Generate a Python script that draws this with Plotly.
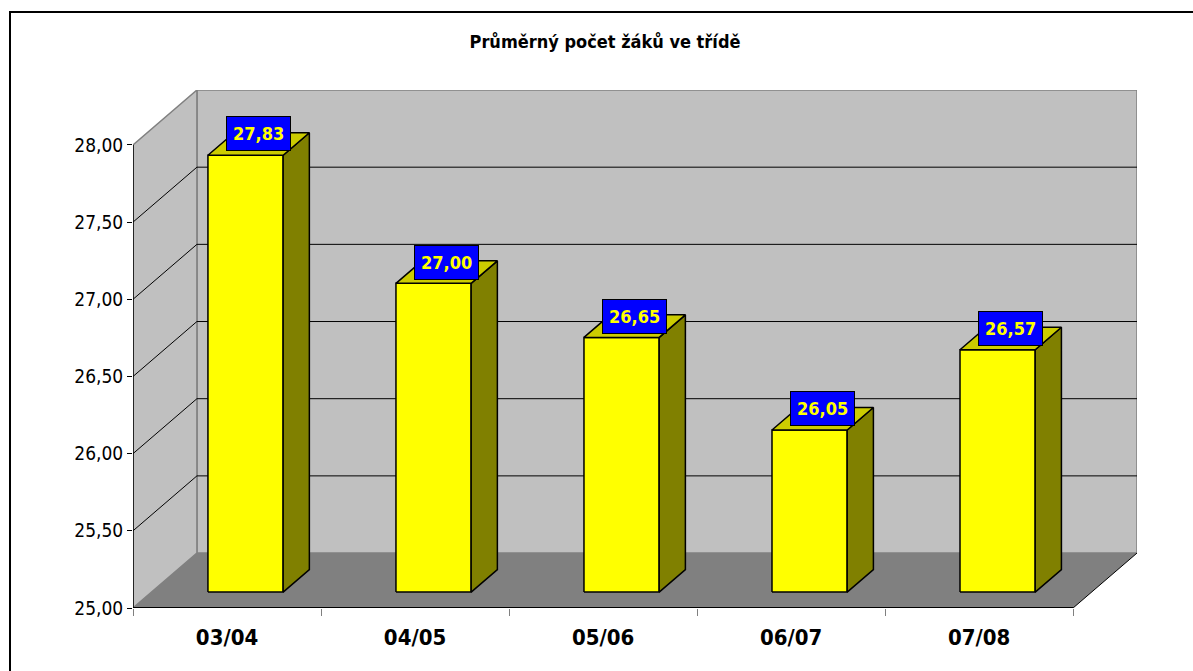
import plotly.graph_objects as go

# ---- data ----
categories = ["03/04", "04/05", "05/06", "06/07", "07/08"]
values = [27.83, 27.00, 26.65, 26.05, 26.57]
y_ticks = [25.0, 25.5, 26.0, 26.5, 27.0, 27.5, 28.0]
y_tick_labels = ["25,00", "25,50", "26,00", "26,50", "27,00", "27,50", "28,00"]
title_text = "Průměrný počet žáků ve třídě"

# ---- 3D look parameters (in data units) ----
Y0, Y1 = 25.0, 28.0
DX, DY = 0.34, 0.356          # full depth offset of the back wall
F0, F1 = 0.29, 0.70           # bar depth: front/back fraction of total depth
HW = 0.20                     # half bar width
BX, BY = F0 * DX, F0 * DY
BDX, BDY = (F1 - F0) * DX, (F1 - F0) * DY
n = len(categories)
XL, XR = -0.5, n - 0.5

FONT = "DejaVu Sans Condensed, DejaVu Sans, sans-serif"

fig = go.Figure()

shapes = []
def path(pts):
    return "M " + " L ".join(f"{x},{y}" for x, y in pts) + " Z"

# back wall
shapes.append(dict(type="path", xref="x", yref="y", layer="below",
                   path=path([(XL + DX, Y0 + DY), (XR + DX, Y0 + DY), (XR + DX, Y1 + DY), (XL + DX, Y1 + DY)]),
                   fillcolor="#C0C0C0", line=dict(color="#808080", width=1.5)))
# side wall
shapes.append(dict(type="path", xref="x", yref="y", layer="below",
                   path=path([(XL, Y0), (XL + DX, Y0 + DY), (XL + DX, Y1 + DY), (XL, Y1)]),
                   fillcolor="#C0C0C0", line=dict(color="#808080", width=1.5)))
# floor
shapes.append(dict(type="path", xref="x", yref="y", layer="below",
                   path=path([(XL, Y0), (XR, Y0), (XR + DX, Y0 + DY), (XL + DX, Y0 + DY)]),
                   fillcolor="#808080", line=dict(width=0)))
# gridlines
for v in y_ticks[1:-1]:
    shapes.append(dict(type="line", xref="x", yref="y", layer="below",
                       x0=XL + DX, y0=v + DY, x1=XR + DX, y1=v + DY,
                       line=dict(color="#000000", width=1)))
    shapes.append(dict(type="line", xref="x", yref="y", layer="below",
                       x0=XL, y0=v, x1=XL + DX, y1=v + DY,
                       line=dict(color="#000000", width=1)))
# floor front edge, right edge and left axis line
shapes.append(dict(type="line", xref="x", yref="y", layer="below",
                   x0=XL, y0=Y0, x1=XR, y1=Y0, line=dict(color="#000000", width=2)))
shapes.append(dict(type="line", xref="x", yref="y", layer="below",
                   x0=XR, y0=Y0, x1=XR + DX, y1=Y0 + DY, line=dict(color="#000000", width=1)))
shapes.append(dict(type="line", xref="x", yref="y", layer="below",
                   x0=XL, y0=Y0, x1=XL, y1=Y1, line=dict(color="#000000", width=1.5)))

# outer border (paper coords)
W, H = 1193, 671
ML, MR, MT, MB = 133, 56, 90, 63
PW, PH = W - ML - MR, H - MT - MB
def px(x): return (x - ML) / PW
def py(y): return (H - MB - y) / PH
shapes.append(dict(type="rect", xref="paper", yref="paper", layer="above",
                   x0=px(10), y0=py(690), x1=px(1210), y1=py(12),
                   line=dict(color="#000000", width=2), fillcolor="rgba(0,0,0,0)"))

# bars as 3D prisms
for i, v in enumerate(values):
    xl, xr = i - HW + BX, i + HW + BX
    yb, yt = Y0 + BY, v + BY
    faces = [
        ([xl, xr, xr, xl, xl], [yb, yb, yt, yt, yb], "#FFFF00"),
        ([xr, xr + BDX, xr + BDX, xr, xr], [yb, yb + BDY, yt + BDY, yt, yb], "#808000"),
        ([xl, xr, xr + BDX, xl + BDX, xl], [yt, yt, yt + BDY, yt + BDY, yt], "#CCCC00"),
    ]
    for fx, fy, col in faces:
        fig.add_trace(go.Scatter(x=fx, y=fy, mode="lines", fill="toself", fillcolor=col,
                                 line=dict(color="#000000", width=1.5),
                                 hoverinfo="skip", showlegend=False))

annotations = []
for i, v in enumerate(values):
    annotations.append(dict(
        x=i + BX + BDX / 2, y=v + BY + BDY / 2, xref="x", yref="y",
        text=f"<b>{v:.2f}</b>".replace(".", ","), showarrow=False,
        yanchor="middle", xanchor="center", yshift=10,
        font=dict(family=FONT, size=18, color="#FFFF00"),
        bgcolor="#0000FF", bordercolor="#000000", borderwidth=1, borderpad=6))

fig.update_layout(
    width=W, height=H,
    margin=dict(l=ML, r=MR, t=MT, b=MB),
    paper_bgcolor="white", plot_bgcolor="white",
    title=dict(text=f"<b>{title_text}</b>", x=605 / W, xanchor="center",
               y=1 - 42 / H, yanchor="middle",
               font=dict(family=FONT, size=18, color="#000000")),
    shapes=shapes, annotations=annotations, showlegend=False,
    xaxis=dict(range=[XL, XR + DX], tickvals=list(range(n)), ticktext=categories,
               showgrid=False, zeroline=False, showline=False, ticks="",
               ticklabelstandoff=14,
               tickfont=dict(family=FONT, size=22, color="#000000", weight="bold")),
    xaxis2=dict(range=[XL, XR + DX], overlaying="x", anchor="y", side="bottom",
                tickvals=[k - 0.5 for k in range(n + 1)], showticklabels=False,
                ticks="outside", ticklen=7, tickcolor="#808080", tickwidth=1,
                showgrid=False, zeroline=False, showline=False),
    yaxis=dict(range=[Y0, Y1 + DY], tickvals=y_ticks, ticktext=y_tick_labels,
               ticks="outside", ticklen=5, tickcolor="#000000", tickwidth=1,
               showgrid=False, zeroline=False, showline=False,
               tickfont=dict(family=FONT, size=19, color="#000000")),
)
fig.add_trace(go.Scatter(x=[XL], y=[Y0], xaxis="x2", yaxis="y", mode="markers",
                         marker=dict(opacity=0), hoverinfo="skip", showlegend=False))

fig.write_html("out.html", config={"displayModeBar": False},
               post_script="document.body.style.margin='0';")
